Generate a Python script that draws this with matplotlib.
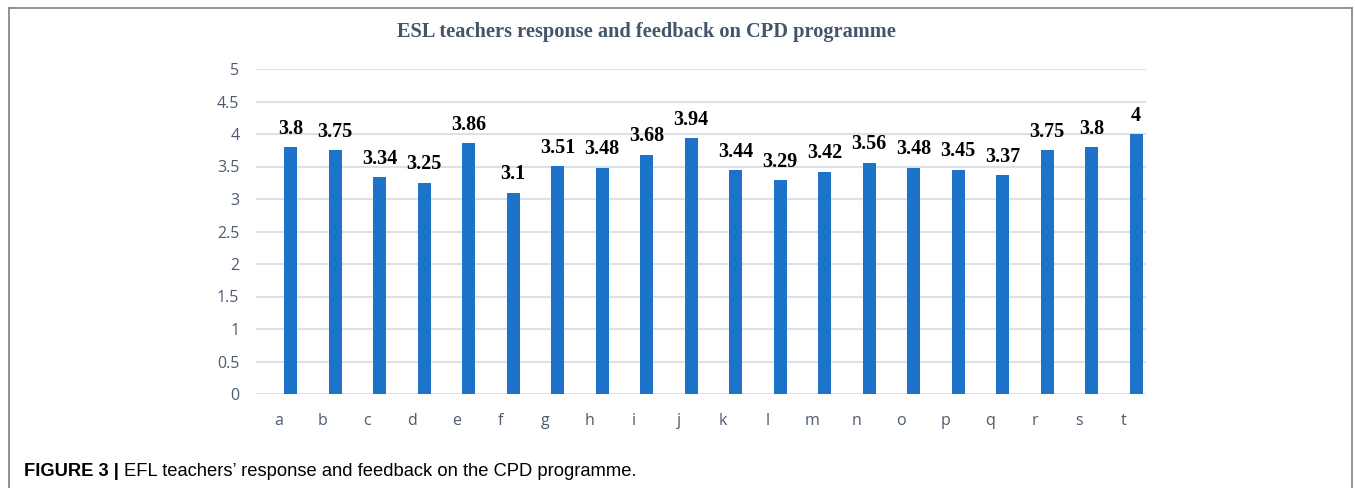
import matplotlib.pyplot as plt
import numpy as np
from matplotlib.lines import Line2D

categories = ["a", "b", "c", "d", "e", "f", "g", "h", "i", "j",
              "k", "l", "m", "n", "o", "p", "q", "r", "s", "t"]
scores = [3.8, 3.75, 3.34, 3.25, 3.86, 3.1, 3.51, 3.48, 3.68, 3.94,
          3.44, 3.29, 3.42, 3.56, 3.48, 3.45, 3.37, 3.75, 3.8, 4]
y_ticks = [0, 0.5, 1, 1.5, 2, 2.5, 3, 3.5, 4, 4.5, 5]
y_tick_labels = ["0", "0.5", "1", "1.5", "2", "2.5", "3", "3.5", "4", "4.5", "5"]

W, H = 1355, 488
fig = plt.figure(figsize=(W / 100, H / 100), dpi=100)
ax = fig.add_axes([256 / W, 1 - 394 / H, 890 / W, 325 / H])

bar_color = "#1C73C7"
grid_color = "#D9E1EA"
tick_color = "#4D5B6E"

x = np.arange(len(categories))
offset = 0.28
bars = ax.bar(x + offset, scores, width=0.29, color=bar_color, zorder=3)
for xi, v in zip(x, scores):
    ax.annotate(f"{v:g}", (xi + offset, v), xytext=(0, 6), textcoords="offset points",
                ha="center", va="bottom", fontsize=14.5, fontweight="bold",
                family="Liberation Serif", color="black")

ax.set_xlim(-0.5, len(categories) - 0.5)
ax.set_ylim(0, 5)
ax.set_yticks(y_ticks)
ax.set_yticklabels(y_tick_labels)
ax.set_xticks(x)
ax.set_xticklabels(categories)
ax.tick_params(axis="both", length=0, labelsize=11.5, colors=tick_color)
ax.tick_params(axis="y", pad=12)
ax.tick_params(axis="x", pad=14)
for lbl in ax.get_xticklabels() + ax.get_yticklabels():
    lbl.set_family("Open Sans")
ax.grid(axis="y", color=grid_color, linewidth=1.5, zorder=0)
for s in ax.spines.values():
    s.set_visible(False)
ax.axhline(0, color=grid_color, linewidth=2, zorder=2)

fig.text(646 / W, 1 - 32 / H, "ESL teachers response and feedback on CPD programme",
         ha="center", va="center", fontsize=14.7, fontweight="bold",
         family="Liberation Serif", color="#44546A")

# frame around the figure (open at the bottom)
frame = dict(color="#808080", linewidth=1.2, transform=None)
fig.add_artist(Line2D([9, 9], [0, H - 8], **frame))
fig.add_artist(Line2D([9, 1352], [H - 8, H - 8], **frame))
fig.add_artist(Line2D([1352, 1352], [0, H - 8], **frame))

cap_y = 1 - 471 / H
t1 = fig.text(24 / W, cap_y, "FIGURE 3 |", ha="left", va="center", fontsize=13.2,
              fontweight="bold", family="Liberation Sans", color="black")
fig.canvas.draw()
bb = t1.get_window_extent()
fig.text((bb.x1 + 5) / W, cap_y, "EFL teachers\u2019 response and feedback on the CPD programme.",
         ha="left", va="center", fontsize=13.2, family="Liberation Sans", color="black")

fig.savefig("out.png", dpi=100)
